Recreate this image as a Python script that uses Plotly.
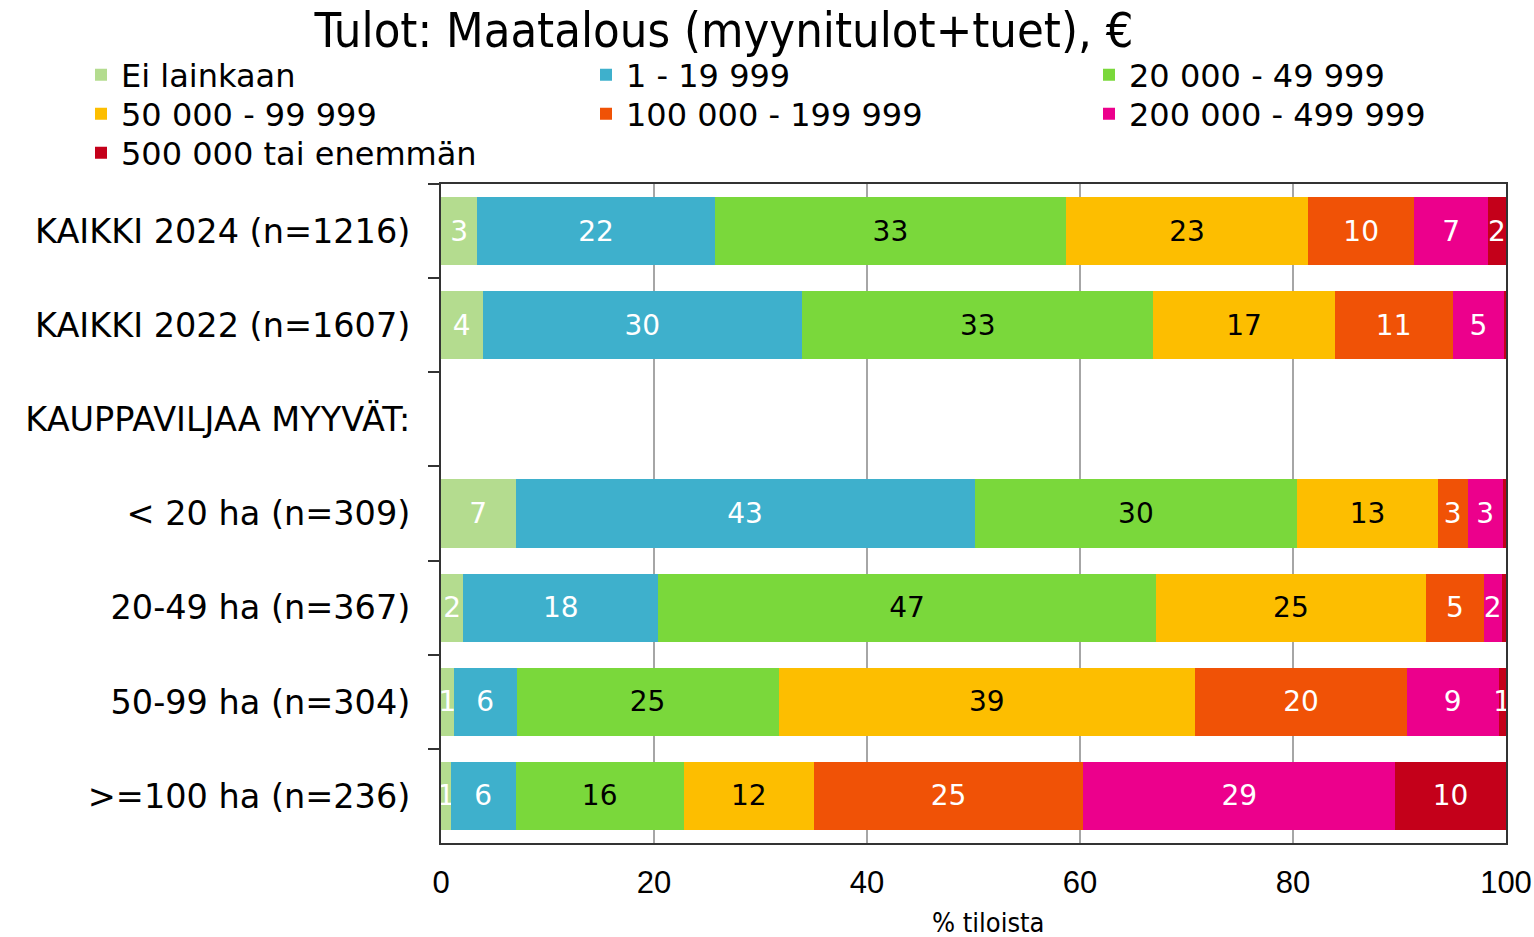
import plotly.graph_objects as go

categories = [
    "KAIKKI 2024 (n=1216)",
    "KAIKKI 2022 (n=1607)",
    "KAUPPAVILJAA MYYVÄT:",
    "&lt; 20 ha (n=309)",
    "20-49 ha (n=367)",
    "50-99 ha (n=304)",
    "&gt;=100 ha (n=236)",
]

series_names = [
    "Ei lainkaan",
    "1 - 19 999",
    "20 000 - 49 999",
    "50 000 - 99 999",
    "100 000 - 199 999",
    "200 000 - 499 999",
    "500 000 tai enemmän",
]

ei_lainkaan = [3.4, 3.9, None, 7.0, 2.1, 1.2, 0.9]
s_1_19999 = [22.3, 30.0, None, 43.1, 18.3, 5.9, 6.1]
s_20000_49999 = [33.0, 33.0, None, 30.3, 46.7, 24.6, 15.8]
s_50000_99999 = [22.7, 17.0, None, 13.2, 25.4, 39.1, 12.2]
s_100000_199999 = [10.0, 11.1, None, 2.8, 5.4, 19.9, 25.3]
s_200000_499999 = [6.9, 4.8, None, 3.3, 1.7, 8.6, 29.3]
s_500000_plus = [1.7, 0.2, None, 0.3, 0.4, 0.7, 10.4]

series_values = [ei_lainkaan, s_1_19999, s_20000_49999, s_50000_99999,
                 s_100000_199999, s_200000_499999, s_500000_plus]

colors = ["#b4dc8f", "#3eb0cc", "#7ad83b", "#fdbe00", "#f05206", "#ec008c", "#c4001a"]
text_colors = ["white", "white", "black", "black", "white", "white", "white"]

x_ticks = [0, 20, 40, 60, 80, 100]

LABEL_FONT = "DejaVu Sans, Verdana, sans-serif"
COND_FONT = "DejaVu Sans Condensed, Liberation Sans Narrow, DejaVu Sans, sans-serif"

# legend layout: 3 columns x 3 rows (pixel positions of the page)
PLOT_L, PLOT_T, PLOT_W, PLOT_H = 441, 184, 1065, 659
legend_cols_px = [81, 586, 1089]
legend_rows_px = [75, 114, 153]


def label(v):
    if v is None:
        return ""
    r = int(round(v))
    return str(r) if r >= 1 else ""


fig = go.Figure()
legend_layouts = {}
for i, (name, vals, col, tcol) in enumerate(zip(series_names, series_values, colors, text_colors)):
    lname = "legend" if i == 0 else f"legend{i + 1}"
    fig.add_trace(go.Bar(
        y=categories,
        x=vals,
        name=name,
        orientation="h",
        legend=lname,
        marker=dict(color=col, line=dict(width=0)),
        text=[label(v) for v in vals],
        texttemplate="%{text}",
        textposition="inside",
        insidetextanchor="middle",
        textangle=0,
        textfont=dict(family=LABEL_FONT, size=28, color=tcol),
        hoverinfo="skip",
    ))
    cx = legend_cols_px[i % 3]
    cy = legend_rows_px[i // 3]
    legend_layouts[lname] = dict(
        x=(cx - PLOT_L) / PLOT_W, xanchor="left",
        y=1 + (PLOT_T - cy) / PLOT_H, yanchor="middle",
        font=dict(family=LABEL_FONT, size=32, color="black"),
        bgcolor="rgba(0,0,0,0)",
        itemclick=False,
        itemdoubleclick=False,
    )

fig.update_layout(**legend_layouts)

fig.update_layout(
    barmode="stack",
    bargap=0.277,
    width=1534,
    height=937,
    margin=dict(l=PLOT_L, r=1534 - PLOT_L - PLOT_W, t=PLOT_T, b=937 - PLOT_T - PLOT_H, autoexpand=False),
    paper_bgcolor="white",
    plot_bgcolor="white",
    showlegend=True,
    font=dict(family=LABEL_FONT, color="black"),
    uniformtext=dict(minsize=28, mode="show"),
    title=dict(
        text="Tulot: Maatalous (myynitulot+tuet), €",
        font=dict(family=COND_FONT, size=48.5, color="black"),
        x=724 / 1534, xref="container", xanchor="center",
        y=1 - 30 / 937, yref="container", yanchor="middle",
    ),
    xaxis=dict(
        range=[0, 100],
        tickvals=x_ticks,
        ticktext=[str(t) for t in x_ticks],
        tickfont=dict(family="Liberation Sans, Arial, sans-serif", size=31, color="black"),
        showgrid=True,
        gridcolor="#a6a6a6",
        gridwidth=1.5,
        zeroline=False,
        showline=True,
        linecolor="#333333",
        linewidth=2,
        mirror=True,
        ticks="",
        ticklabelstandoff=11,
        automargin=False,
    ),
    yaxis=dict(
        categoryorder="array",
        categoryarray=categories,
        autorange="reversed",
        tickfont=dict(family=LABEL_FONT, size=33.5, color="black"),
        showgrid=False,
        showline=True,
        linecolor="#333333",
        linewidth=2,
        mirror=True,
        ticks="outside",
        tickson="boundaries",
        ticklen=11,
        tickwidth=2,
        tickcolor="#333333",
        ticklabelstandoff=22,
        automargin=False,
    ),
    annotations=[dict(
        text="% tiloista",
        xref="paper", yref="paper",
        x=(988 - PLOT_L) / PLOT_W, y=-(922 - (PLOT_T + PLOT_H)) / PLOT_H,
        xanchor="center", yanchor="middle",
        showarrow=False,
        font=dict(family=COND_FONT, size=27, color="black"),
    )],
)

fig.write_html(
    "out.html",
    config={"displayModeBar": False},
    post_script="document.body.style.margin='0';document.body.style.overflow='hidden';",
)
